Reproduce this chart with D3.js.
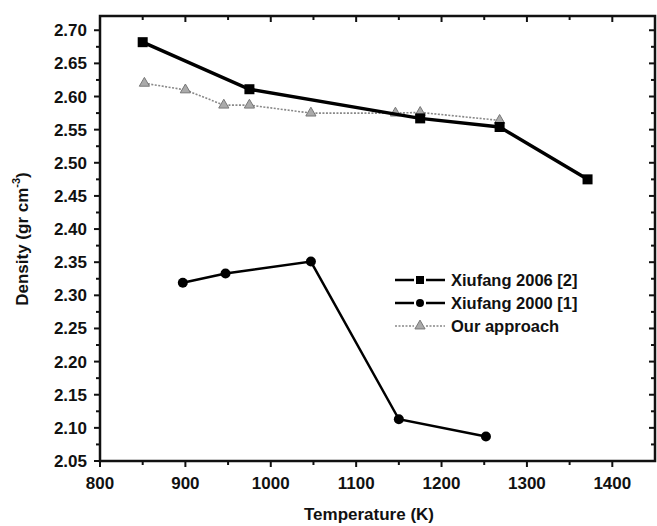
<!DOCTYPE html>
<html lang="en">
<head>
    <meta charset="UTF-8">
    <title>Density vs Temperature</title>
    <script src="https://d3js.org/d3.v7.min.js"></script>
    <style>
        body { margin: 0; background: #fff; }
        text { font-family: "Liberation Sans", Arial, sans-serif; font-weight: bold; fill: #111; }
    </style>
</head>
<body>
    <div id="chart"></div>

    <script>
        // data
        var temp2006 = [850, 975, 1175, 1268, 1371];
        var dens2006 = [2.682, 2.611, 2.567, 2.554, 2.475];

        var temp2000 = [897, 947, 1047, 1150, 1252];
        var dens2000 = [2.319, 2.333, 2.351, 2.113, 2.087];

        var tempOurs = [852, 900, 945, 975, 1047, 1146, 1175, 1268];
        var densOurs = [2.620, 2.610, 2.587, 2.587, 2.575, 2.575, 2.576, 2.564];

        var seriesNames = ["Xiufang 2006 [2]", "Xiufang 2000 [1]", "Our approach"];
        var xTicks = [800, 900, 1000, 1100, 1200, 1300, 1400];
        var yTicks = d3.range(2.05, 2.701, 0.05);

        var width = 657, height = 526;
        var margin = { top: 16, right: 2, bottom: 65, left: 100 };
        var w = width - margin.left - margin.right;
        var h = height - margin.top - margin.bottom;

        var svg = d3.select("#chart").append("svg")
            .attr("width", width)
            .attr("height", height);
        var g = svg.append("g")
            .attr("transform", "translate(" + margin.left + "," + margin.top + ")");

        var x = d3.scaleLinear().domain([800, 1450]).range([0, w]);
        var y = d3.scaleLinear().domain([2.05, 2.7215]).range([h, 0]);

        // axes: bottom/left ticks outward, top/right ticks inward
        var xMinor = d3.range(850, 1450, 100);
        var yMinor = d3.range(2.075, 2.72, 0.05);

        function tickGroup(sel, vals, fn) {
            sel.selectAll(null).data(vals).enter().append("line")
                .each(function(d) { fn(d3.select(this), d); })
                .attr("stroke", "#111").attr("stroke-width", 2);
        }
        var ax = g.append("g");
        tickGroup(ax, xTicks, (s, d) => s.attr("x1", x(d)).attr("x2", x(d)).attr("y1", h).attr("y2", h + 6));
        tickGroup(ax, xMinor, (s, d) => s.attr("x1", x(d)).attr("x2", x(d)).attr("y1", h).attr("y2", h + 4));
        tickGroup(ax, xTicks, (s, d) => s.attr("x1", x(d)).attr("x2", x(d)).attr("y1", 0).attr("y2", 6));
        tickGroup(ax, xMinor, (s, d) => s.attr("x1", x(d)).attr("x2", x(d)).attr("y1", 0).attr("y2", 4));
        tickGroup(ax, yTicks, (s, d) => s.attr("x1", -6).attr("x2", 0).attr("y1", y(d)).attr("y2", y(d)));
        tickGroup(ax, yMinor, (s, d) => s.attr("x1", -4).attr("x2", 0).attr("y1", y(d)).attr("y2", y(d)));
        tickGroup(ax, yTicks, (s, d) => s.attr("x1", w - 6).attr("x2", w).attr("y1", y(d)).attr("y2", y(d)));
        tickGroup(ax, yMinor, (s, d) => s.attr("x1", w - 4).attr("x2", w).attr("y1", y(d)).attr("y2", y(d)));

        g.append("rect")
            .attr("width", w).attr("height", h)
            .attr("fill", "none").attr("stroke", "#111").attr("stroke-width", 2.5);

        g.selectAll(".xl").data(xTicks).enter().append("text")
            .attr("x", d => x(d)).attr("y", h + 28)
            .attr("text-anchor", "middle").style("font-size", "17px")
            .text(d => d);
        g.selectAll(".yl").data(yTicks).enter().append("text")
            .attr("x", -13).attr("y", d => y(d) + 6)
            .attr("text-anchor", "end").style("font-size", "17px")
            .text(d => d.toFixed(2));

        svg.append("text")
            .attr("x", margin.left + x(1115)).attr("y", 520)
            .attr("text-anchor", "middle").style("font-size", "17px")
            .text("Temperature (K)");
        var yt = svg.append("text")
            .attr("transform", "translate(28," + (margin.top + y(2.385)) + ") rotate(-90)")
            .attr("text-anchor", "middle").style("font-size", "17px");
        yt.append("tspan").text("Density (gr cm");
        yt.append("tspan").attr("dy", -8).style("font-size", "11px").text("-3");
        yt.append("tspan").attr("dy", 8).text(")");

        var line = d3.line().x(d => x(d[0])).y(d => y(d[1]));
        var s2006 = temp2006.map((t, i) => [t, dens2006[i]]);
        var s2000 = temp2000.map((t, i) => [t, dens2000[i]]);
        var sOurs = tempOurs.map((t, i) => [t, densOurs[i]]);

        var tri = d3.symbol().type(d3.symbolTriangle).size(45);

        // our approach (grey, dotted)
        g.append("path").datum(sOurs).attr("d", line)
            .attr("fill", "none").attr("stroke", "#888").attr("stroke-width", 1.6)
            .attr("stroke-dasharray", "2,1.5");
        g.selectAll(".tri").data(sOurs).enter().append("path")
            .attr("d", tri)
            .attr("transform", d => "translate(" + x(d[0]) + "," + y(d[1]) + ")")
            .attr("fill", "#aaa").attr("stroke", "#777").attr("stroke-width", 1);

        // Xiufang 2006
        g.append("path").datum(s2006).attr("d", line)
            .attr("fill", "none").attr("stroke", "#000").attr("stroke-width", 3.5);
        g.selectAll(".sq").data(s2006).enter().append("rect")
            .attr("x", d => x(d[0]) - 5).attr("y", d => y(d[1]) - 5)
            .attr("width", 10).attr("height", 10).attr("fill", "#000");

        // Xiufang 2000
        g.append("path").datum(s2000).attr("d", line)
            .attr("fill", "none").attr("stroke", "#000").attr("stroke-width", 2.5);
        g.selectAll(".ci").data(s2000).enter().append("circle")
            .attr("cx", d => x(d[0])).attr("cy", d => y(d[1]))
            .attr("r", 5).attr("fill", "#000");

        // legend
        var leg = svg.append("g").attr("transform", "translate(395,280)");
        seriesNames.forEach(function(name, i) {
            var row = leg.append("g").attr("transform", "translate(0," + (i * 23) + ")");
            var grey = i === 2;
            [[0, 19], [31, 50]].forEach(function(seg) {
                row.append("line").attr("x1", seg[0]).attr("x2", seg[1]).attr("y1", 0).attr("y2", 0)
                    .attr("stroke", grey ? "#888" : "#000")
                    .attr("stroke-width", grey ? 1.6 : 2.5)
                    .attr("stroke-dasharray", grey ? "2,1.5" : null);
            });
            if (i === 0) row.append("rect").attr("x", 21).attr("y", -4).attr("width", 8).attr("height", 8).attr("fill", "#000");
            if (i === 1) row.append("circle").attr("cx", 25).attr("cy", 0).attr("r", 4).attr("fill", "#000");
            if (grey) row.append("path").attr("d", tri).attr("transform", "translate(25,0)")
                .attr("fill", "#aaa").attr("stroke", "#777");
            row.append("text").attr("x", 56).attr("y", 6).style("font-size", "16.5px").text(name);
        });
    </script>
</body>
</html>
